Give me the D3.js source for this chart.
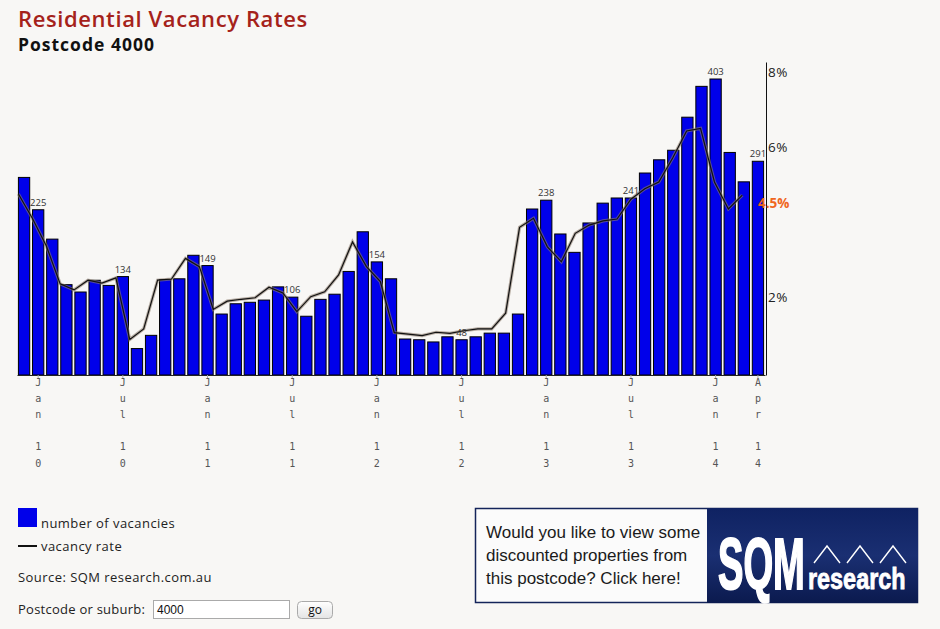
<!DOCTYPE html>
<html>
<head>
<meta charset="utf-8">
<script src="https://cdn.jsdelivr.net/npm/d3@7"></script>
<style>
  body { margin: 0; background: #f8f7f5; }
  svg { display: block; font-family: "Open Sans", Lato, sans-serif; }
</style>
</head>
<body>
<svg id="chart" width="940" height="629"></svg>
<script>
// months shown, Dec 2009 to Apr 2014
const months = [
  "2009-12",
  "2010-01","2010-02","2010-03","2010-04","2010-05","2010-06","2010-07","2010-08","2010-09","2010-10","2010-11","2010-12",
  "2011-01","2011-02","2011-03","2011-04","2011-05","2011-06","2011-07","2011-08","2011-09","2011-10","2011-11","2011-12",
  "2012-01","2012-02","2012-03","2012-04","2012-05","2012-06","2012-07","2012-08","2012-09","2012-10","2012-11","2012-12",
  "2013-01","2013-02","2013-03","2013-04","2013-05","2013-06","2013-07","2013-08","2013-09","2013-10","2013-11","2013-12",
  "2014-01","2014-02","2014-03","2014-04"
];

// number of vacancies (bars)
const vacancies = [
  269,
  225, 185, 123, 113, 129, 122, 134, 36, 54, 130, 131, 163,
  149, 83, 97, 99, 102, 120, 106, 80, 103, 110, 141, 195,
  154, 131, 49, 48, 45, 52, 48, 52, 57, 57, 83, 226,
  238, 192, 167, 207, 234, 241, 241, 275, 293, 306, 351, 393,
  403, 303, 263, 291
];

// vacancy rate in % (line)
const vacancyRates = [
  4.83,
  4.18, 3.45, 2.43, 2.27, 2.53, 2.45, 2.59, 0.95, 1.23, 2.53, 2.56, 3.11,
  2.89, 1.75, 1.97, 2.02, 2.06, 2.34, 2.19, 1.69, 2.09, 2.22, 2.67, 3.55,
  2.89, 2.49, 1.13, 1.09, 1.05, 1.14, 1.11, 1.18, 1.23, 1.23, 1.65, 3.94,
  4.18, 3.42, 3.02, 3.78, 4.00, 4.11, 4.16, 4.69, 4.97, 5.15, 5.79, 6.51,
  6.58, 5.15, 4.43, 4.80
];

const tickMonths = ["2010-01","2010-07","2011-01","2011-07","2012-01","2012-07","2013-01","2013-07","2014-01","2014-04"];
const tickLabels = ["Jan 10","Jul 10","Jan 11","Jul 11","Jan 12","Jul 12","Jan 13","Jul 13","Jan 14","Apr 14"];
const rateTicks = [2, 6, 8];
const currentRate = 4.5;

const adLines = ["Would you like to view some", "discounted properties from", "this postcode? Click here!"];

const svg = d3.select("#chart");
const defs = svg.append("defs");

// titles
svg.append("text")
  .attr("x", 18).attr("y", 27)
  .style("font-size", "22px").style("font-weight", 600).style("letter-spacing", "0.6px")
  .attr("fill", "#a5221a")
  .text("Residential Vacancy Rates");
svg.append("text")
  .attr("x", 18).attr("y", 51)
  .style("font-size", "17.5px").style("font-weight", 700).style("letter-spacing", "1px")
  .attr("fill", "#111")
  .text("Postcode 4000");

// scales
const left = 17, right = 765, baseY = 375;

const x = d3.scaleBand()
  .domain(months)
  .range([left, right])
  .paddingInner(0.2)
  .paddingOuter(0.1);

const xLine = d3.scalePoint()
  .domain(months)
  .range([x(months[0]), x(months[months.length - 1]) - 10]);

const yCount = d3.scaleLinear()
  .domain([0, d3.max(vacancies)])
  .range([baseY, 79]);

const yRate = d3.scaleLinear()
  .domain([0, 8.35])
  .range([baseY, 62]);

// bars
svg.append("g").selectAll("rect")
  .data(months)
  .enter()
  .append("rect")
  .attr("x", d => x(d))
  .attr("y", (d, i) => yCount(vacancies[i]))
  .attr("width", x.bandwidth())
  .attr("height", (d, i) => baseY - yCount(vacancies[i]))
  .attr("fill", "#0000ea")
  .attr("stroke", "#000")
  .attr("stroke-width", 1);

// bottom axis
const xAxis = svg.append("g")
  .attr("transform", `translate(0, ${baseY})`)
  .call(d3.axisBottom(x).tickValues(tickMonths).tickSize(3).tickSizeOuter(0).tickFormat(""));
xAxis.select(".domain").attr("stroke", "#222");
xAxis.selectAll(".tick line").attr("stroke", "#aaa");

// vertical month labels, one character per line
const labelG = svg.append("g")
  .style("font-family", "'DejaVu Sans Mono', monospace")
  .style("font-size", "10px")
  .attr("fill", "#555")
  .attr("text-anchor", "middle");
tickMonths.forEach((m, i) => {
  const cx = x(m) + x.bandwidth() / 2;
  const t = labelG.append("text").attr("x", cx).attr("y", 386);
  tickLabels[i].split("").forEach((ch, j) => {
    t.append("tspan")
      .attr("x", cx)
      .attr("dy", j === 0 ? 0 : 16.1)
      .text(ch === " " ? "\u00a0" : ch);
  });
});

// vacancy rate line
const line = d3.line()
  .x((d, i) => xLine(months[i]))
  .y(d => yRate(d));

svg.append("path")
  .datum(vacancyRates)
  .attr("d", line)
  .attr("fill", "none")
  .attr("stroke", "#8c7c6c")
  .attr("stroke-opacity", 0.6)
  .attr("stroke-width", 3.2);
svg.append("path")
  .datum(vacancyRates)
  .attr("d", line)
  .attr("fill", "none")
  .attr("stroke", "#111")
  .attr("stroke-width", 1.2);

// value labels on the tick months
svg.append("g").selectAll("text")
  .data(tickMonths)
  .enter()
  .append("text")
  .attr("x", d => x(d) + x.bandwidth() / 2)
  .attr("y", d => yCount(vacancies[months.indexOf(d)]) - 4)
  .attr("text-anchor", "middle")
  .style("font-size", "9.5px")
  .attr("fill", "#333")
  .text(d => vacancies[months.indexOf(d)]);

// right axis (vacancy rate)
const rAxis = svg.append("g")
  .attr("transform", `translate(${right + 1}, 0)`)
  .call(d3.axisRight(yRate).tickValues(rateTicks).tickSize(0).tickSizeOuter(0).tickPadding(2).tickFormat(d => d + "%"));
rAxis.select(".domain").attr("stroke", "#111");
rAxis.selectAll("text")
  .attr("dy", "0.1em")
  .style("font-family", "'Open Sans', sans-serif")
  .style("font-size", "13.5px")
  .style("letter-spacing", "0.5px")
  .attr("fill", "#222");

svg.append("text")
  .attr("x", 758)
  .attr("y", yRate(currentRate))
  .attr("dy", "0.1em")
  .style("font-size", "13.5px")
  .style("font-weight", 700)
  .attr("fill", "#f0661e")
  .text(currentRate + "%");

// legend
const bodyText = (sel) => sel.style("font-size", "13px").style("letter-spacing", "0.45px").attr("fill", "#222");
svg.append("rect").attr("x", 18).attr("y", 508).attr("width", 19).attr("height", 19).attr("fill", "#0000ea");
svg.append("text").attr("x", 41).attr("y", 527.5).call(bodyText).text("number of vacancies");
svg.append("line").attr("x1", 18).attr("x2", 37).attr("y1", 546).attr("y2", 546).attr("stroke", "#111").attr("stroke-width", 2);
svg.append("text").attr("x", 41).attr("y", 550.5).call(bodyText).text("vacancy rate");
svg.append("text").attr("x", 18).attr("y", 581.5).call(bodyText).text("Source: SQM research.com.au");

// postcode form
svg.append("text").attr("x", 18).attr("y", 614).call(bodyText).style("letter-spacing", "0.25px").text("Postcode or suburb:");
svg.append("rect").attr("x", 153.5).attr("y", 600.5).attr("width", 136).attr("height", 18)
  .attr("fill", "#fff").attr("stroke", "#aaa");
svg.append("text").attr("x", 157).attr("y", 613.5)
  .style("font-family", "'Liberation Sans', Arial, sans-serif").style("font-size", "12px").attr("fill", "#111").text("4000");
const btnGrad = defs.append("linearGradient").attr("id", "btn").attr("x1", 0).attr("y1", 0).attr("x2", 0).attr("y2", 1);
btnGrad.append("stop").attr("offset", 0).attr("stop-color", "#ffffff");
btnGrad.append("stop").attr("offset", 1).attr("stop-color", "#e4e4e4");
svg.append("rect").attr("x", 297.5).attr("y", 601.5).attr("width", 35).attr("height", 17).attr("rx", 4)
  .attr("fill", "url(#btn)").attr("stroke", "#aaa");
svg.append("text").attr("x", 315).attr("y", 614).attr("text-anchor", "middle")
  .style("font-size", "12px").attr("fill", "#111").text("go");

// SQM banner
const navy = defs.append("linearGradient").attr("id", "navy").attr("x1", 0).attr("y1", 0).attr("x2", 0).attr("y2", 1);
navy.append("stop").attr("offset", 0).attr("stop-color", "#0f2262");
navy.append("stop").attr("offset", 0.5).attr("stop-color", "#1a2f72");
navy.append("stop").attr("offset", 1).attr("stop-color", "#0b1a4e");

svg.append("rect").attr("x", 475.5).attr("y", 508.5).attr("width", 442).attr("height", 94)
  .attr("fill", "#fbfbfb").attr("stroke", "#14245a").attr("stroke-width", 1.5);
svg.append("rect").attr("x", 707).attr("y", 508).attr("width", 211).attr("height", 95).attr("fill", "url(#navy)");

const adText = svg.append("text")
  .style("font-family", "'Liberation Sans', Arial, sans-serif")
  .style("font-size", "17px")
  .attr("fill", "#1a1a1a");
adLines.forEach((s, i) => {
  adText.append("tspan").attr("x", 486).attr("y", 537.5 + i * 23).text(s);
});

// condensed logo lettering: squeeze bold type horizontally
svg.append("text")
  .attr("transform", "translate(718, 588.5) scale(0.53, 1)")
  .style("font-family", "'Liberation Sans', Arial, sans-serif")
  .style("font-size", "72px").style("font-weight", 700)
  .attr("fill", "#fff").attr("stroke", "#fff").attr("stroke-width", 2)
  .text("SQM");
svg.append("text")
  .attr("transform", "translate(808, 588.5) scale(0.78, 1)")
  .style("font-family", "'Liberation Sans', Arial, sans-serif")
  .style("font-size", "30px").style("font-weight", 700)
  .attr("fill", "#fff").attr("stroke", "#fff").attr("stroke-width", 0.8)
  .text("research");
[814, 847, 880].forEach(x0 => {
  svg.append("polyline")
    .attr("points", `${x0},563 ${x0 + 13},546 ${x0 + 26},563`)
    .attr("fill", "none").attr("stroke", "#fff").attr("stroke-width", 1.4);
});
</script>
</body>
</html>
